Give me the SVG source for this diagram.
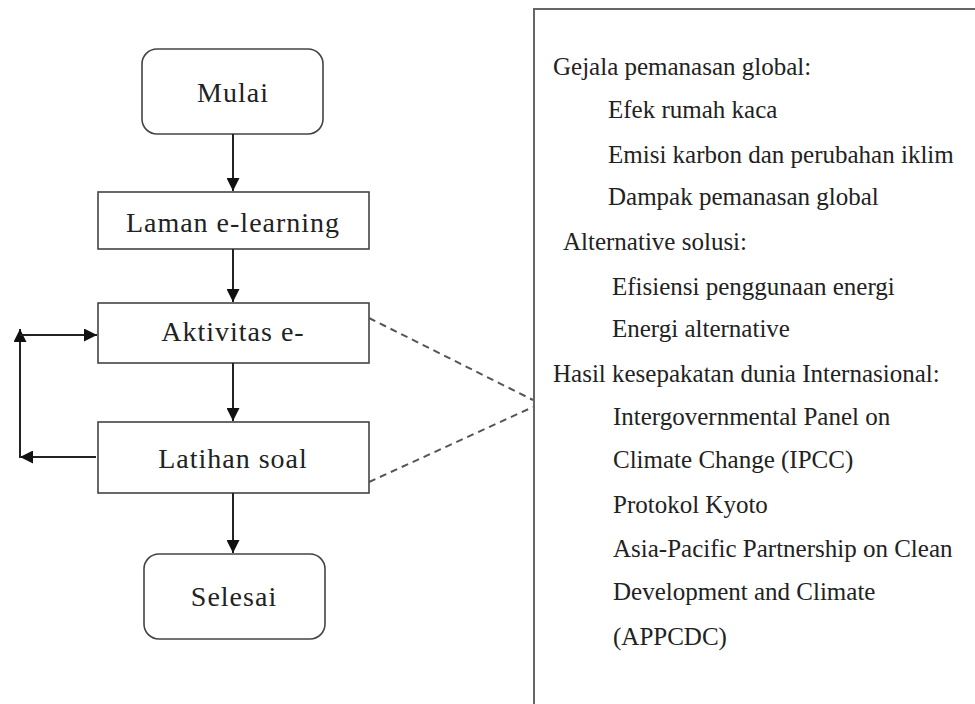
<svg xmlns="http://www.w3.org/2000/svg" width="975" height="704" viewBox="0 0 975 704">
<style>
.box{fill:#fff;stroke:#444;stroke-width:1.6}
.lbl{font-family:"Liberation Serif","Times New Roman",serif;font-size:28px;letter-spacing:1px;fill:#222;text-anchor:middle}
.txt{font-family:"Liberation Serif","Times New Roman",serif;font-size:25px;fill:#222}
.arr{fill:none;stroke:#222;stroke-width:2}
.dash{fill:none;stroke:#555;stroke-width:2;stroke-dasharray:7 5}
</style>
<defs>
<marker id="ah" viewBox="0 0 13 13" refX="13" refY="6.5" markerWidth="13" markerHeight="13" markerUnits="userSpaceOnUse" orient="auto">
<path d="M0,0 L13,6.5 L0,13 Z" fill="#111"/>
</marker>
</defs>
<rect width="975" height="704" fill="#fff"/>
<g id="panel">
<path d="M534,704 V9 H975" fill="none" stroke="#666" stroke-width="2"/>
<text class="txt" x="553" y="75">Gejala pemanasan global:</text>
<text class="txt" x="608" y="118">Efek rumah kaca</text>
<text class="txt" x="608" y="163">Emisi karbon dan perubahan iklim</text>
<text class="txt" x="608" y="205">Dampak pemanasan global</text>
<text class="txt" x="563" y="250">Alternative solusi:</text>
<text class="txt" x="612" y="295">Efisiensi penggunaan energi</text>
<text class="txt" x="612" y="337">Energi alternative</text>
<text class="txt" x="553" y="382">Hasil kesepakatan dunia Internasional:</text>
<text class="txt" x="613" y="425">Intergovernmental Panel on</text>
<text class="txt" x="613" y="468">Climate Change (IPCC)</text>
<text class="txt" x="613" y="513">Protokol Kyoto</text>
<text class="txt" x="613" y="557">Asia-Pacific Partnership on Clean</text>
<text class="txt" x="613" y="600">Development and Climate</text>
<text class="txt" x="613" y="645">(APPCDC)</text>
</g>
<g id="mulai">
<rect class="box" x="142" y="49" width="181" height="85" rx="15"/>
<text class="lbl" x="233" y="102">Mulai</text>
</g>
<g id="laman">
<rect class="box" x="98" y="192" width="271" height="57"/>
<text class="lbl" x="233" y="232">Laman e-learning</text>
</g>
<g id="aktivitas">
<rect class="box" x="98" y="303" width="271" height="60"/>
<text class="lbl" x="233" y="341">Aktivitas e-</text>
</g>
<g id="latihan">
<rect class="box" x="98" y="422" width="271" height="71"/>
<text class="lbl" x="233" y="468">Latihan soal</text>
</g>
<g id="selesai">
<rect class="box" x="144" y="554" width="181" height="85" rx="15"/>
<text class="lbl" x="234" y="606">Selesai</text>
</g>
<g id="connectors">
<line class="arr" x1="233" y1="134" x2="233" y2="191" marker-end="url(#ah)"/>
<line class="arr" x1="233" y1="249" x2="233" y2="302" marker-end="url(#ah)"/>
<line class="arr" x1="233" y1="363" x2="233" y2="421" marker-end="url(#ah)"/>
<line class="arr" x1="233" y1="493" x2="233" y2="553" marker-end="url(#ah)"/>
<line class="arr" x1="96" y1="457" x2="20" y2="457" marker-end="url(#ah)"/>
<line class="arr" x1="20" y1="458" x2="20" y2="329" marker-end="url(#ah)"/>
<line class="arr" x1="20" y1="335" x2="97" y2="335" marker-end="url(#ah)"/>
<line class="dash" x1="369" y1="318" x2="533" y2="400"/>
<line class="dash" x1="369" y1="482" x2="533" y2="407"/>
</g>
</svg>
